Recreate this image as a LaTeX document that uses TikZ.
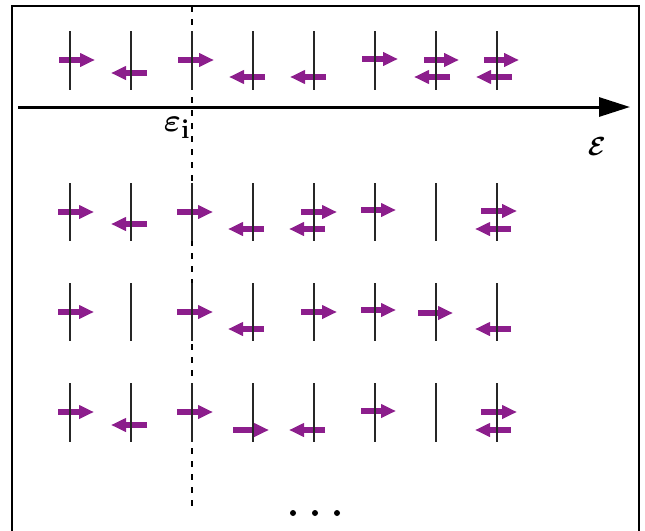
\documentclass[tikz,border=0pt]{standalone}
\usetikzlibrary{arrows.meta}
\usepackage{bm}
\definecolor{spin}{RGB}{140,30,140}
\begin{document}
\begin{tikzpicture}[x=1pt,y=-1pt,
  level/.style={line width=1.6pt, black!85},
  spinarrow/.style={line width=5.5pt, spin, -{Triangle[length=15pt,width=13pt]}},
  frameline/.style={line width=2.5pt},
  axisline/.style={line width=3pt, -{Triangle[length=31pt,width=19pt]}},
  cut/.style={line width=1.5pt, dash pattern=on 6pt off 7pt},
  dotmark/.style={fill=black},
]
\useasboundingbox (0,0) rectangle (645,530);
\begin{scope}
  \clip (0,0) rectangle (645,530);
  \draw[frameline] (12,545) -- (12,6) -- (639,6) -- (639,545);
\end{scope}
% energy axis
\coordinate (axstart) at (18,107);
\coordinate (axend) at (630,107);
\draw[axisline] (axstart) -- (axend);
\node[scale=1.05] (E) at (597,147) {\Huge $\bm{\mathcal{E}}$};
% Fermi level cut
\coordinate (cuttop) at (192,6);
\coordinate (cutbot) at (192,508);
\draw[cut] (cuttop) -- (cutbot);
\node[scale=1.3] (eps) at (177,128) {\Huge $\bm{\varepsilon}_{\mathbf{i}}$};
% spin arrows
\foreach \a/\b/\y in {
  59/95/60, 147/111/73, 178/214/60, 265/229/77, 326/290/77, 362/398/59,
  424/459/60, 450/414/77, 484/519/60, 512/476/77,
  58/94/212, 147/111/224, 177/213/212, 264/228/229, 301/337/212, 325/289/229,
  361/396/210, 481/517/211, 511/475/229,
  58/94/312, 177/213/312, 264/228/329, 301/337/312, 361/396/310, 418/453/313,
  511/475/329,
  58/94/412, 147/111/425, 177/213/412, 233/269/430, 325/289/430, 361/396/411,
  481/517/412, 511/475/430}
  \draw[spinarrow] (\a,\y) -- (\b,\y);
% levels
\foreach \t/\u in {31/90, 183/241, 283/341, 383/442}
  \foreach \x in {70,131,192,253,314,375,436,497}
    \draw[level] (\x,\t) -- (\x,\u);
% ellipsis
\foreach \x in {293,315,337}
  \fill[dotmark] (\x,513) circle (3pt);
\end{tikzpicture}
\end{document}
